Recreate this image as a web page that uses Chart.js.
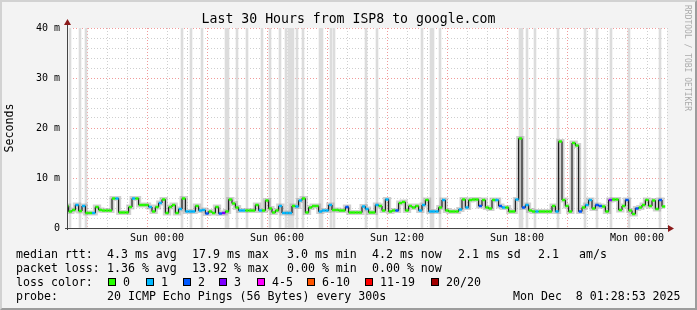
<!DOCTYPE html>
<html>
<head>
<meta charset="utf-8">
<script src="https://cdn.jsdelivr.net/npm/chart.js@4"></script>
<style>
  body { margin: 0; background: #fff; }
  #wrap { position: relative; width: 697px; height: 310px; background: #f3f3f3; font-family: "DejaVu Sans Mono", monospace; color: #000; overflow: hidden; }
  #frame { position: absolute; left: 0; top: 0; width: 697px; height: 310px; box-sizing: border-box; border: 2px solid; border-color: #d2d2d2 #9c9c9c #9c9c9c #d2d2d2; pointer-events: none; }
  canvas { position: absolute; left: 0; top: 0; }
  .t { position: absolute; white-space: pre; font-size: 11.6px; line-height: 14px; }
  .title { position: absolute; left: 0; top: 11px; width: 697px; text-align: center; font-size: 13.2px; line-height: 16px; }
  .box { position: absolute; width: 8px; height: 8px; box-sizing: border-box; border: 1px solid #000; top: 278px; }
  .credit { position: absolute; left: 683px; top: 5px; writing-mode: vertical-rl; font-size: 8px; color: #ababab; white-space: pre; }
</style>
</head>
<body>
<div id="wrap">
  <canvas id="chart" width="697" height="310"></canvas>
  <div class="title">Last 30 Hours from ISP8 to google.com</div>
  <div class="credit">RRDTOOL / TOBI OETIKER</div>

  <div class="t" style="left:16px;top:247px">median rtt:</div>
  <div class="t" style="left:107px;top:247px">4.3 ms avg</div>
  <div class="t" style="left:192px;top:247px">17.9 ms max</div>
  <div class="t" style="left:287px;top:247px">3.0 ms min</div>
  <div class="t" style="left:372px;top:247px">4.2 ms now</div>
  <div class="t" style="left:458px;top:247px">2.1 ms sd</div>
  <div class="t" style="left:538px;top:247px">2.1</div>
  <div class="t" style="left:579px;top:247px">am/s</div>

  <div class="t" style="left:16px;top:261px">packet loss:</div>
  <div class="t" style="left:107px;top:261px">1.36 % avg</div>
  <div class="t" style="left:192px;top:261px">13.92 % max</div>
  <div class="t" style="left:287px;top:261px">0.00 % min</div>
  <div class="t" style="left:372px;top:261px">0.00 % now</div>

  <div class="t" style="left:16px;top:275px">loss color:</div>
  <div id="lossLegend"></div>

  <div class="t" style="left:16px;top:289px">probe:</div>
  <div class="t" style="left:107px;top:289px">20 ICMP Echo Pings (56 Bytes) every 300s</div>
  <div class="t" style="left:513px;top:289px">Mon Dec  8 01:28:53 2025</div>

  <div id="frame"></div>
</div>
<script>
// time axis in hours relative to Sun 00:00, one sample every 10 minutes from Sat 19:30
const startHour = -4.5;
const stepHours = 1 / 6;

// median rtt (ms)
const median = [
  4.4, 3.3, 3.6, 4.6, 3.4, 4.4, 3.0, 3.0, 3.0, 4.2,
  3.6, 3.5, 3.5, 3.5, 5.9, 5.9, 3.1, 3.1, 3.1, 4.2,
  5.9, 5.9, 4.6, 4.6, 4.6, 4.2, 3.3, 4.2, 5.0, 5.7,
  3.0, 4.2, 4.6, 3.0, 3.8, 5.9, 3.3, 3.3, 3.3, 4.4,
  3.5, 3.6, 2.9, 3.3, 3.0, 4.2, 2.9, 3.0, 3.3, 5.7,
  4.9, 4.1, 3.5, 3.5, 3.5, 3.5, 3.5, 4.6, 3.5, 3.5,
  5.5, 3.9, 3.1, 3.5, 4.4, 3.0, 3.0, 3.0, 4.4, 4.3,
  5.5, 5.9, 3.1, 4.1, 4.4, 4.4, 3.3, 3.5, 3.5, 4.6,
  3.6, 3.6, 3.5, 3.5, 4.2, 3.1, 3.1, 3.1, 3.1, 4.3,
  3.8, 3.1, 3.1, 4.6, 4.4, 3.5, 5.7, 3.3, 3.5, 3.5,
  5.0, 5.2, 3.5, 4.4, 4.1, 4.4, 3.5, 4.6, 5.6, 3.3,
  3.3, 3.3, 4.1, 5.6, 3.5, 3.3, 3.3, 3.3, 3.7, 5.7,
  4.1, 5.6, 5.7, 5.7, 4.4, 5.6, 4.1, 3.9, 5.6, 5.6,
  4.4, 4.1, 4.1, 3.3, 3.3, 5.7, 17.9, 4.1, 4.6, 3.5,
  3.3, 3.3, 3.3, 3.3, 3.3, 3.3, 4.4, 3.3, 17.3, 5.6,
  4.4, 3.3, 17.0, 16.5, 3.3, 4.1, 4.6, 5.6, 3.9, 4.6,
  4.4, 4.3, 3.3, 5.6, 5.7, 5.7, 3.6, 4.4, 5.6, 3.5,
  2.8, 3.9, 4.1, 4.6, 5.6, 4.4, 5.5, 3.8, 5.6, 4.3
];

// lost pings (of 20) per sample
const loss = [
  0, 0, 0, 1, 0, 1, 0, 0, 1, 0,
  0, 0, 0, 0, 0, 1, 0, 0, 0, 0,
  1, 0, 0, 0, 0, 1, 0, 0, 1, 0,
  0, 0, 0, 0, 1, 0, 1, 1, 1, 0,
  1, 1, 2, 0, 0, 0, 2, 3, 0, 0,
  0, 0, 1, 1, 0, 0, 0, 0, 1, 0,
  0, 0, 0, 0, 1, 1, 1, 1, 0, 1,
  1, 0, 0, 0, 0, 0, 1, 1, 1, 1,
  0, 0, 0, 0, 2, 0, 0, 0, 0, 1,
  1, 0, 0, 1, 0, 0, 1, 0, 0, 2,
  0, 0, 0, 0, 0, 0, 1, 1, 0, 1,
  1, 1, 0, 1, 0, 0, 0, 0, 1, 0,
  1, 0, 0, 0, 2, 0, 0, 0, 0, 1,
  2, 1, 0, 0, 0, 1, 0, 2, 1, 0,
  0, 1, 0, 0, 0, 0, 0, 1, 0, 0,
  0, 0, 0, 0, 2, 0, 1, 1, 0, 2,
  2, 0, 0, 3, 0, 0, 0, 0, 2, 0,
  0, 2, 0, 0, 0, 0, 0, 0, 2, 0
];

// hours where some pings went off the top of the graph
const outlierHours = [
  -4.35, -3.85, -3.55, 1.25, 1.7, 2.25, 3.45, 3.55, 4.0, 4.5,
  5.25, 5.65, 6.15, 6.45, 6.6, 6.7, 6.8, 7.0, 7.3, 8.15, 8.25,
  8.7, 8.85, 10.45, 11.0, 13.25, 13.7, 13.8, 14.15, 18.15, 18.25,
  18.5, 18.9, 20.05, 21.4, 22.0, 22.7, 23.6, 25.15
];

const lossLabels = ["0", "1", "2", "3", "4-5", "6-10", "11-19", "20/20"];
const lossColors = ["#26ff00", "#00b8ff", "#0059ff", "#7e00ff", "#ff00ff", "#ff5500", "#ff0000", "#a10000"];

const xTickHours = [0, 6, 12, 18, 24];
const xTickLabels = ["Sun 00:00", "Sun 06:00", "Sun 12:00", "Sun 18:00", "Mon 00:00"];
const yTickValues = [0, 10, 20, 30, 40];
const yTickLabels = ["0", "10 m", "20 m", "30 m", "40 m"];

// loss colour legend row
const legendX = [108, 146, 183, 219, 257, 307, 365, 431];
const legendEl = document.getElementById("lossLegend");
lossLabels.forEach((lab, i) => {
  const b = document.createElement("div");
  b.className = "box";
  b.style.left = legendX[i] + "px";
  b.style.background = lossColors[i];
  legendEl.appendChild(b);
  const t = document.createElement("div");
  t.className = "t";
  t.style.left = legendX[i] + 15 + "px";
  t.style.top = "275px";
  t.textContent = lab;
  legendEl.appendChild(t);
});

function lossColor(n) {
  if (n <= 3) return lossColors[n];
  if (n <= 5) return lossColors[4];
  if (n <= 10) return lossColors[5];
  if (n <= 19) return lossColors[6];
  return lossColors[7];
}

const points = median.map((v, i) => ({ x: startHour + i * stepHours, y: v }));
const outliers = outlierHours.map((h) => ({ x: h, y: [0, 40] }));

const plotBg = {
  id: "plotBg",
  beforeDraw(chart) {
    const { ctx, chartArea: a } = chart;
    ctx.save();
    ctx.fillStyle = "#ffffff";
    ctx.fillRect(a.left, a.top, a.right - a.left, a.bottom - a.top);
    ctx.restore();
  },
};

const axes = {
  id: "axes",
  afterDatasetsDraw(chart) {
    const { ctx, chartArea: a } = chart;
    ctx.save();
    ctx.strokeStyle = "#444";
    ctx.lineWidth = 1;
    ctx.beginPath();
    ctx.moveTo(a.left + 0.5, a.bottom + 2);
    ctx.lineTo(a.left + 0.5, a.top - 6);
    ctx.moveTo(a.left - 2, a.bottom + 0.5);
    ctx.lineTo(a.right + 5, a.bottom + 0.5);
    ctx.stroke();
    ctx.fillStyle = "#8b1a1a";
    ctx.beginPath();
    ctx.moveTo(a.left + 0.5, a.top - 9);
    ctx.lineTo(a.left - 3, a.top - 3);
    ctx.lineTo(a.left + 4, a.top - 3);
    ctx.closePath();
    ctx.fill();
    ctx.beginPath();
    ctx.moveTo(a.right + 7, a.bottom + 0.5);
    ctx.lineTo(a.right + 1, a.bottom - 3);
    ctx.lineTo(a.right + 1, a.bottom + 4);
    ctx.closePath();
    ctx.fill();
    ctx.restore();
  },
};

Chart.defaults.font.family = "'DejaVu Sans Mono', monospace";
Chart.defaults.color = "#000";

const tickVal = (c) => (c && c.tick ? c.tick.value : NaN);

new Chart(document.getElementById("chart"), {
  type: "line",
  data: {
    datasets: [
      {
        type: "bar",
        data: outliers,
        backgroundColor: "#dcdcdc",
        barThickness: 2,
        grouped: false,
        order: 3,
      },
      {
        data: points,
        stepped: "middle",
        borderColor: "rgba(140,140,140,0.4)",
        borderWidth: 5,
        pointRadius: 0,
        order: 2,
      },
      {
        data: points,
        stepped: "middle",
        borderColor: "#000",
        borderWidth: 1,
        pointStyle: "line",
        pointRadius: 1.6,
        pointBorderWidth: 2.5,
        pointBorderColor: (c) => lossColor(loss[c.dataIndex] ?? 0),
        order: 1,
      },
    ],
  },
  options: {
    responsive: false,
    devicePixelRatio: 1,
    animation: false,
    layout: { padding: { top: 28, right: 30, bottom: 66, left: 0 } },
    plugins: { legend: { display: false }, tooltip: { enabled: false } },
    scales: {
      x: {
        type: "linear",
        min: -4.5,
        max: 25.5,
        offset: false,
        afterBuildTicks: (s) => {
          const t = [];
          for (let h = -4; h <= 25; h++) t.push({ value: h });
          s.ticks = t;
        },
        afterFit: (s) => { s.height = 16; },
        grid: {
          color: (c) => (tickVal(c) % 3 === 0 ? "#f19a9a" : "#cfcfcf"),
          drawTicks: false,
        },
        border: { display: false, dash: [1, 2] },
        ticks: {
          padding: 4,
          autoSkip: false,
          maxRotation: 0,
          font: { size: 10 },
          callback: (v) => {
            const k = xTickHours.indexOf(v);
            return k >= 0 ? xTickLabels[k] : "";
          },
        },
      },
      y: {
        min: 0,
        max: 40,
        afterBuildTicks: (s) => {
          const t = [];
          for (let v = 0; v <= 40; v += 2) t.push({ value: v });
          s.ticks = t;
        },
        afterFit: (s) => { s.width = 67; },
        grid: {
          color: (c) => {
            const v = tickVal(c);
            if (v === 0) return "rgba(0,0,0,0)";
            return v % 10 === 0 ? "#f19a9a" : "#cfcfcf";
          },
          drawTicks: false,
        },
        border: { display: false, dash: [1, 2] },
        title: {
          display: true,
          text: "Seconds",
          font: { size: 11.6 },
          padding: { top: 3, bottom: 0 },
        },
        ticks: {
          padding: 7,
          autoSkip: false,
          font: { size: 10 },
          callback: (v) => {
            const k = yTickValues.indexOf(v);
            return k >= 0 ? yTickLabels[k] : "";
          },
        },
      },
    },
  },
  plugins: [plotBg, axes],
});
</script>
</body>
</html>
